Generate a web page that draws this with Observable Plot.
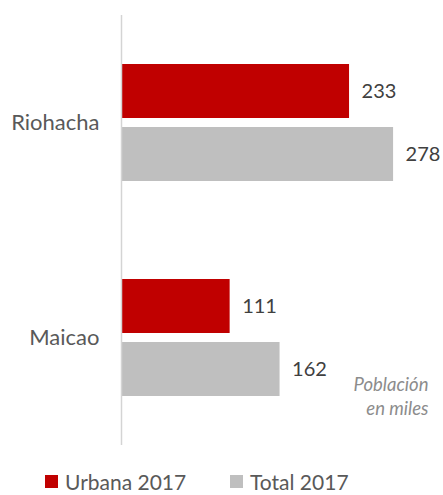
<!DOCTYPE html>
<html>
<head>
<meta charset="utf-8">
<script src="https://cdn.jsdelivr.net/npm/d3@7"></script>
<script src="https://cdn.jsdelivr.net/npm/@observablehq/plot@0.6"></script>
<style>
  html, body { margin: 0; padding: 0; background: #fff; }
  #wrap { position: relative; width: 443px; height: 495px; font-family: Lato, "Open Sans", sans-serif; }
  #legend { position: absolute; left: 0; top: 468px; width: 443px; height: 27px; font-size: 21px; line-height: 27px; color: #595959; }
  .item { position: absolute; top: 0; height: 27px; display: flex; align-items: center; white-space: nowrap; }
  .sw { width: 13px; height: 13px; margin-right: 7px; display: inline-block; }
</style>
</head>
<body>
<div id="wrap"></div>
<script>
const cities = ["Riohacha", "Maicao"];
const series = ["Urbana 2017", "Total 2017"];
const urbana = [233, 111];
const total = [278, 162];
const colors = ["#c00000", "#bfbfbf"];
const note = "Población\nen miles";

const data = [];
cities.forEach((c, i) => {
  data.push({city: c, serie: series[0], value: urbana[i]});
  data.push({city: c, serie: series[1], value: total[i]});
});

const chart = Plot.plot({
  width: 443,
  height: 460,
  marginLeft: 121,
  marginRight: 0,
  marginTop: 15,
  marginBottom: 15,
  style: {fontFamily: "Lato, 'Open Sans', sans-serif", fontSize: "20px", color: "#595959", background: "#fff"},
  x: {domain: [0, 329], axis: null},
  y: {domain: series, axis: null, paddingInner: 0.14, paddingOuter: 0.76},
  fy: {domain: cities, padding: 0, label: null},
  color: {domain: series, range: colors},
  marks: [
    Plot.barX(data, {fy: "city", y: "serie", x: "value", fill: "serie"}),
    Plot.ruleX([0], {stroke: "#d4d4d4", strokeWidth: 1.5}),
    Plot.text(data, {fy: "city", y: "serie", x: "value", text: d => String(d.value), textAnchor: "start", dx: 12, fill: "#404040", fontSize: 20}),
    Plot.axisFy({anchor: "left", tickSize: 0, tickPadding: 22, label: null, fontSize: 22, fill: "#595959"}),
    Plot.text([note], {fy: ["Maicao"], frameAnchor: "bottom-right", dx: -15, dy: -50, lineAnchor: "middle", lineHeight: 1.3, fontStyle: "italic", fontSize: 18.5, fill: "#8c8c8c", textAnchor: "end"})
  ]
});

const wrap = document.getElementById("wrap");
wrap.appendChild(chart);

const legend = document.createElement("div");
legend.id = "legend";
const lefts = [45, 230];
series.forEach((s, i) => {
  const item = document.createElement("div");
  item.className = "item";
  item.style.left = lefts[i] + "px";
  const sw = document.createElement("span");
  sw.className = "sw";
  sw.style.background = colors[i];
  const t = document.createElement("span");
  t.textContent = s;
  item.appendChild(sw);
  item.appendChild(t);
  legend.appendChild(item);
});
wrap.appendChild(legend);
</script>
</body>
</html>
